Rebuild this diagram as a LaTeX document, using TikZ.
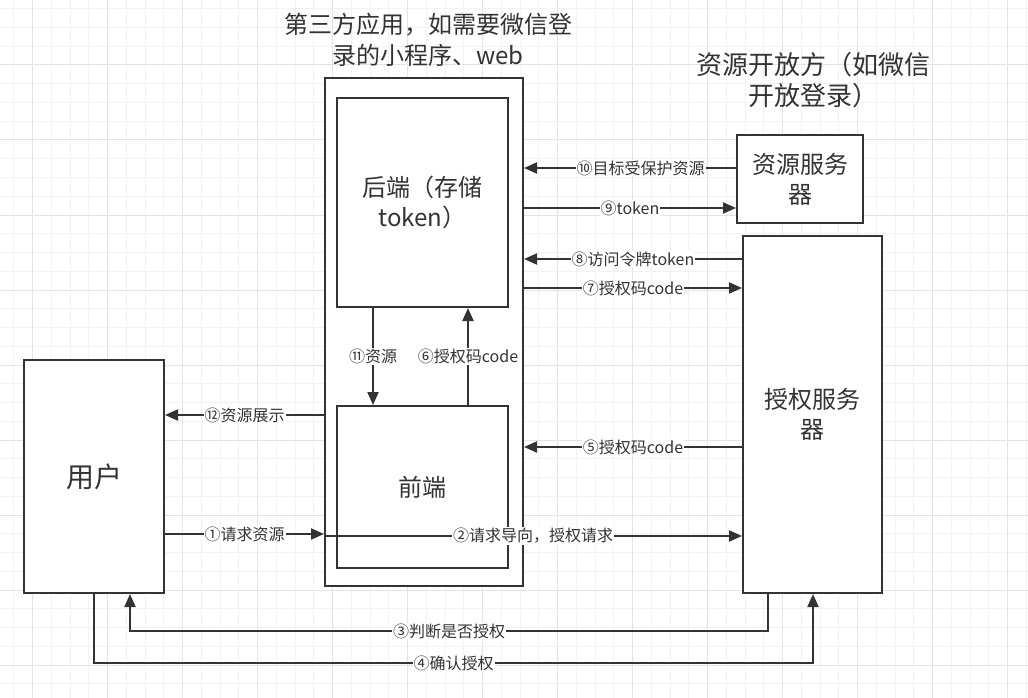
\documentclass[tikz,border=0pt]{standalone}
\usepackage{fontspec}
\setmainfont{Noto Sans CJK SC}
\usetikzlibrary{arrows.meta}
\definecolor{ink}{HTML}{333333}
\definecolor{minorgrid}{HTML}{F2F2F2}
\definecolor{majorgrid}{HTML}{E3E3E3}

\begin{document}
\begin{tikzpicture}[x=1pt, y=-1pt,
  box/.style={draw=ink, line width=2pt, fill=white, text=ink, align=center, inner sep=0pt, font=\fontsize{24}{30}\selectfont},
  flow/.style={draw=ink, line width=2pt, -{Triangle[length=13pt,width=11pt]}},
  elabel/.style={fill=white, text=ink, inner sep=1pt, font=\fontsize{16}{19}\selectfont},
  title/.style={text=ink, align=center, font=\fontsize{24}{31}\selectfont}]
	\useasboundingbox[fill=white] (0,0) rectangle (1028,698);
	
	\foreach \i in {0,...,54} \draw[minorgrid, line width=1pt] (13.75+18.75*\i,0) -- (13.75+18.75*\i,698);
	\foreach \j in {0,...,36} \draw[minorgrid, line width=1pt] (0,8.75+18.75*\j) -- (1028,8.75+18.75*\j);
	\foreach \i in {0,...,13} \draw[majorgrid, line width=1pt] (32.5+75*\i,0) -- (32.5+75*\i,698);
	\foreach \j in {0,...,8} \draw[majorgrid, line width=1pt] (0,65+75*\j) -- (1028,65+75*\j);
	
	\node[box, font=\fontsize{28}{34}\selectfont, minimum width=140pt, minimum height=233pt] (user) at (94,476.5) {用户};
	\node[box, minimum width=198pt, minimum height=508pt] (app) at (424,332) {};
	\node[box, minimum width=171pt, minimum height=209pt] (back) at (422.5,202.5) {后端（存储\\token）};
	\node[box, minimum width=171pt, minimum height=162pt] (front) at (422.5,487) {前端};
	\node[box, minimum width=126pt, minimum height=88pt] (res) at (800,179) {资源服务\\器};
	\node[box, minimum width=139pt, minimum height=357pt] (auth) at (812.5,414.5) {授权服务\\器};
	\node[title] (apptitle) at (428,40) {第三方应用，如需要微信登\\录的小程序、web};
	\node[title, font=\fontsize{26}{31}\selectfont] (opentitle) at (813,80) {资源开放方（如微信\\开放登录）};
	
	\draw[flow] (user.east |- 0,534) -- node[elabel] {①请求资源} (app.west |- 0,534);
	\draw[flow] (app.west |- 0,536) -- node[elabel] {②请求导向，授权请求} (auth.west |- 0,536);
	\draw[flow] (auth.south -| 768,0) -- (768,631) -- node[elabel] {③判断是否授权} (130,631) -- (user.south -| 130,0);
	\draw[flow] (user.south -| 94,0) -- (94,663) -- node[elabel] {④确认授权} (813,663) -- (auth.south -| 813,0);
	\draw[flow] (auth.west |- 0,447) -- node[elabel] {⑤授权码code} (app.east |- 0,447);
	\draw[flow] (front.north -| 468,0) -- node[elabel] {⑥授权码code} (back.south -| 468,0);
	\draw[flow] (app.east |- 0,288) -- node[elabel] {⑦授权码code} (auth.west |- 0,288);
	\draw[flow] (auth.west |- 0,259) -- node[elabel] {⑧访问令牌token} (app.east |- 0,259);
	\draw[flow] (app.east |- 0,208) -- node[elabel] {⑨token} (res.west |- 0,208);
	\draw[flow] (res.west |- 0,168) -- node[elabel, pos=0.45] {⑩目标受保护资源} (app.east |- 0,168);
	\draw[flow] (back.south -| 373,0) -- node[elabel] {⑪资源} (front.north -| 373,0);
	\draw[flow] (app.west |- 0,415) -- node[elabel] {⑫资源展示} (user.east |- 0,415);
\end{tikzpicture}
\end{document}
